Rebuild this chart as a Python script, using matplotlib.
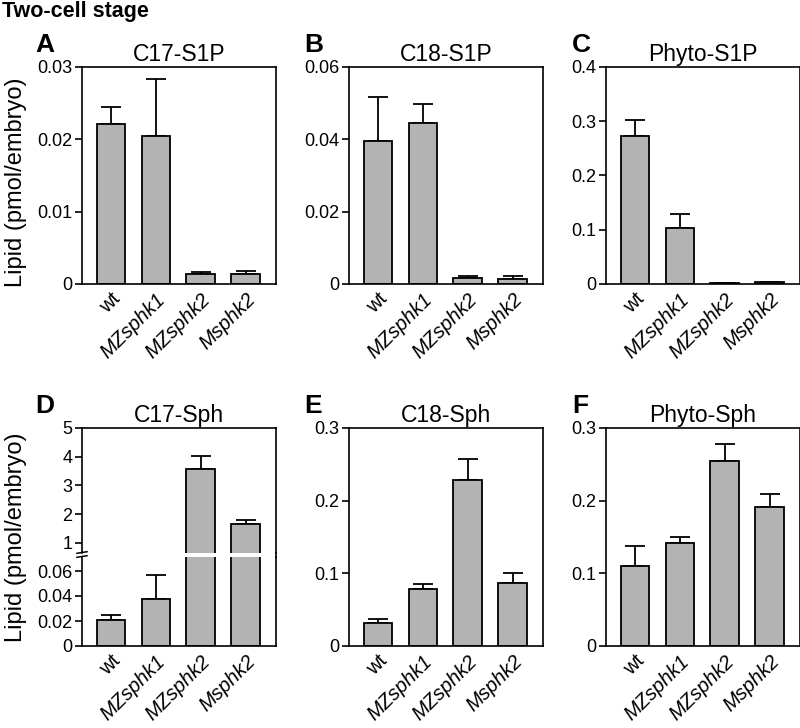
import matplotlib
matplotlib.use("Agg")
import matplotlib.pyplot as plt
from matplotlib.lines import Line2D
from matplotlib.ticker import FuncFormatter

plt.rcParams["font.family"] = ["Liberation Sans", "DejaVu Sans"]

genotypes = ["wt", "MZsphk1", "MZsphk2", "Msphk2"]

c17_s1p = [0.0221, 0.0204, 0.0014, 0.0014]
c17_s1p_err = [0.0024, 0.0080, 0.0002, 0.0004]
c18_s1p = [0.0396, 0.0445, 0.0016, 0.0015]
c18_s1p_err = [0.0120, 0.0052, 0.0007, 0.0006]
phyto_s1p = [0.272, 0.104, 0.002, 0.003]
phyto_s1p_err = [0.031, 0.025, 0.0, 0.0]
c17_sph = [0.0208, 0.0376, 3.57, 1.65]
c17_sph_err = [0.0042, 0.0189, 0.45, 0.14]
c18_sph = [0.032, 0.078, 0.228, 0.087]
c18_sph_err = [0.005, 0.008, 0.029, 0.013]
phyto_sph = [0.110, 0.142, 0.254, 0.191]
phyto_sph_err = [0.028, 0.008, 0.024, 0.018]

BAR_COLOR = "#b3b3b3"
W, H = 800, 728


def fig_rect(x0, y0, x1, y1):
    # pixel box (top-left origin) -> figure fraction rect
    return [x0 / W, 1 - y1 / H, (x1 - x0) / W, (y1 - y0) / H]


def draw_bars(ax, vals, errs):
    x = range(len(vals))
    ax.bar(x, vals, width=0.64, color=BAR_COLOR, edgecolor="black",
           linewidth=1.3, zorder=2)
    ax.errorbar(x, vals, yerr=[[0] * len(vals), errs], fmt="none",
                ecolor="black", elinewidth=1.3, capsize=7.5, capthick=1.3,
                zorder=1)
    ax.set_xlim(-0.65, 3.68)


def style_axis(ax, ylim, yticks):
    ax.set_ylim(*ylim)
    ax.set_yticks(yticks)
    ax.yaxis.set_major_formatter(FuncFormatter(lambda v, p: "%g" % v))
    ax.tick_params(axis="y", direction="out", length=5, width=1.2,
                   labelsize=13, pad=2)
    for s in ax.spines.values():
        s.set_linewidth(1.2)


def set_xlabels(ax):
    ax.set_xticks(range(len(genotypes)))
    ax.set_xticklabels(genotypes, rotation=45, ha="right",
                       rotation_mode="anchor", fontsize=14.5)
    for lab in ax.get_xticklabels():
        if lab.get_text() != "wt":
            lab.set_fontstyle("italic")
    ax.tick_params(axis="x", length=0, pad=4)


def panel_title(fig, x0, ytop, letter_x, letter, title):
    # title centred over the axes, letter to the upper left
    fig.text((x0 + 97) / W, 1 - (ytop - 6) / H, title, fontsize=16.5,
             ha="center", va="baseline")
    fig.text(letter_x / W, 1 - (ytop - 15) / H, letter, fontsize=19,
             fontweight="bold", ha="left", va="baseline")


fig = plt.figure(figsize=(8, 7.28), dpi=100)
fig.text(2 / W, 1 - 17 / H, "Two-cell stage", fontsize=15.5, fontweight="bold",
         va="baseline", ha="left")

top_panels = [
    ("A", "C17-S1P", c17_s1p, c17_s1p_err, (0, 0.03), [0, 0.01, 0.02, 0.03], 82, 35),
    ("B", "C18-S1P", c18_s1p, c18_s1p_err, (0, 0.06), [0, 0.02, 0.04, 0.06], 349, 304),
    ("C", "Phyto-S1P", phyto_s1p, phyto_s1p_err, (0, 0.4), [0, 0.1, 0.2, 0.3, 0.4], 606, 572),
]
for letter, title, vals, errs, ylim, yticks, x0, lx in top_panels:
    ax = fig.add_axes(fig_rect(x0, 67, x0 + 194, 284))
    draw_bars(ax, vals, errs)
    style_axis(ax, ylim, yticks)
    set_xlabels(ax)
    panel_title(fig, x0, 67, lx, letter, title)
    if letter == "A":
        ax.set_ylabel("Lipid (pmol/embryo)", fontsize=17)
        ax.yaxis.set_label_coords(-0.285, 0.47)

# D: broken y axis
ax_hi = fig.add_axes(fig_rect(82, 428, 276, 553))
ax_lo = fig.add_axes(fig_rect(82, 557, 276, 646))
for ax in (ax_hi, ax_lo):
    draw_bars(ax, c17_sph, c17_sph_err)
style_axis(ax_hi, (0.65, 5), [1, 2, 3, 4, 5])
style_axis(ax_lo, (0, 0.0712), [0, 0.02, 0.04, 0.06])
ax_hi.spines["bottom"].set_visible(False)
ax_hi.set_xticks([])
ax_lo.spines["top"].set_visible(False)
set_xlabels(ax_lo)
panel_title(fig, 82, 428, 35, "D", "C17-Sph")
ax_hi.set_ylabel("Lipid (pmol/embryo)", fontsize=17)
ax_hi.yaxis.set_label_coords(-0.285, 0.13)
# keep right spine continuous through the break
fig.add_artist(Line2D([276 / W, 276 / W], [1 - 557 / H, 1 - 553 / H],
                      color="black", linewidth=1.2))
# break marks on the left spine
for yy in (552.5, 556.5):
    fig.add_artist(Line2D([77 / W, 87 / W], [1 - (yy + 0.8) / H, 1 - (yy - 0.8) / H],
                          color="black", linewidth=1.1))

bottom_panels = [
    ("E", "C18-Sph", c18_sph, c18_sph_err, (0, 0.3), [0, 0.1, 0.2, 0.3], 349, 304),
    ("F", "Phyto-Sph", phyto_sph, phyto_sph_err, (0, 0.3), [0, 0.1, 0.2, 0.3], 606, 572),
]
for letter, title, vals, errs, ylim, yticks, x0, lx in bottom_panels:
    ax = fig.add_axes(fig_rect(x0, 428, x0 + 194, 646))
    draw_bars(ax, vals, errs)
    style_axis(ax, ylim, yticks)
    set_xlabels(ax)
    panel_title(fig, x0, 428, lx, letter, title)

fig.savefig("out.png", dpi=100)
